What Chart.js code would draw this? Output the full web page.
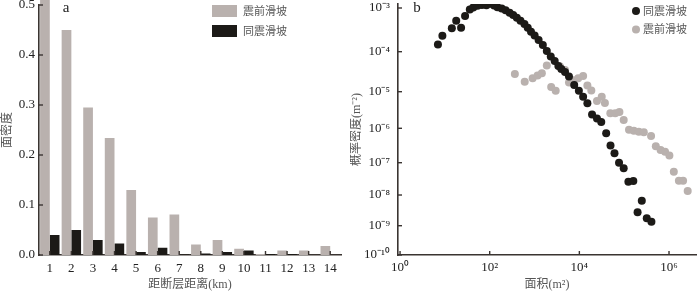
<!DOCTYPE html>
<html lang="zh">
<head>
<meta charset="UTF-8">
<title>滑坡面密度与面积概率密度</title>
<script src="https://cdn.jsdelivr.net/npm/chart.js@4.4.0/dist/chart.umd.min.js"></script>
<style>
  body { margin: 0; background: #fff; width: 700px; height: 292px; overflow: hidden; }
  .panel { position: absolute; top: 0; width: 350px; height: 292px; }
</style>
</head>
<body>
<div class="panel" style="left:0"><canvas id="chartA" width="350" height="292"></canvas></div>
<div class="panel" style="left:350px"><canvas id="chartB" width="350" height="292"></canvas></div>
<script>
// (a) 距断层距离 - 面密度
const distKm = ['1', '2', '3', '4', '5', '6', '7', '8', '9', '10', '11', '12', '13', '14'];
const preDensity = [0.51, 0.45, 0.295, 0.234, 0.130, 0.075, 0.081, 0.021, 0.030, 0.0125, 0.002, 0.009, 0.009, 0.018];
const coDensity = [0.040, 0.050, 0.030, 0.023, 0.006, 0.0145, 0.001, 0.003, 0.006, 0.009, 0.002, 0.002, 0, 0];
const yTicksA = [0, 0.1, 0.2, 0.3, 0.4, 0.5];

// (b) 面积 - 概率密度
const coArea = [7.0, 8.8, 14.3, 17.9, 23.0, 28.2, 36, 43, 53.5, 67, 84.6, 106, 125, 149, 185, 226, 278, 334, 403, 486,
  596, 705, 834, 1005, 1233, 1532, 1878, 2302, 2818, 3404, 3963, 4786, 5866, 7674, 9750, 12130, 15100, 19190, 24700,
  30770, 39650, 49550, 60780, 76750, 97500, 124000, 160000, 199000, 247000, 319000, 405000];
const coProb = [1.46e-4, 2.32e-4, 3.43e-4, 5.12e-4, 3.54e-4, 6.56e-4, 9.2e-4, 1.03e-3, 1.13e-3, 1.17e-3, 1.15e-3, 1.24e-3,
  1.14e-3, 1.04e-3, 9.7e-4, 8.9e-4, 7.8e-4, 6.9e-4, 6.0e-4, 5.1e-4, 4.3e-4, 3.54e-4, 2.87e-4, 2.35e-4, 1.85e-4, 1.42e-4,
  1.04e-4, 7.6e-5, 5.85e-5, 4.39e-5, 3.69e-5, 3.11e-5, 2.4e-5, 1.47e-5, 1.06e-5, 7.3e-6, 4.82e-6, 2.38e-6, 1.85e-6,
  1.49e-6, 7.2e-7, 3.16e-7, 1.88e-7, 1.0e-7, 6.7e-8, 2.58e-8, 2.71e-8, 2.73e-9, 6.5e-9, 1.74e-9, 1.35e-9];
const preArea = [364, 604, 908, 1170, 1456, 1878, 2350, 2966, 3673, 4786, 5866, 7295, 9414, 12130, 15100, 18500, 24700,
  31550, 37150, 49100, 63250, 78300, 97500, 128000, 164000, 212000, 274000, 398000, 508000, 649000, 816000, 1020000,
  1280000, 1660000, 2060000, 2610000];
const preProb = [2.77e-5, 1.78e-5, 2.16e-5, 2.54e-5, 2.88e-5, 4.52e-5, 1.31e-5, 1.06e-5, 4.32e-5, 3.49e-5, 1.7e-5, 1.93e-5,
  2.16e-5, 2.47e-5, 1.43e-5, 1.07e-5, 5.57e-6, 7.3e-6, 4.91e-6, 2.57e-6, 2.57e-6, 2.79e-6, 1.69e-6, 9.1e-7, 8.5e-7, 8.0e-7,
  7.65e-7, 5.97e-7, 3.0e-7, 2.34e-7, 2.09e-7, 1.62e-7, 5.26e-8, 2.77e-8, 2.77e-8, 1.33e-8];
const xTicksB = [1, 1e2, 1e4, 1e6];
const yTicksB = [1e-3, 1e-4, 1e-5, 1e-6, 1e-7, 1e-8, 1e-9, 1e-10];

const GREY = '#b9b1ae', BLACK = '#1c1a17', AXIS = '#3a3431';
const SERIF = '"Liberation Serif", "Times New Roman", serif';
const CJK = '"Liberation Serif", "Noto Sans CJK SC", serif';

const SUP = { '-': '⁻', '0': '⁰', '1': '¹', '2': '²', '3': '³', '4': '⁴', '5': '⁵', '6': '⁶', '7': '⁷', '8': '⁸', '9': '⁹' };
const pow10 = v => '10' + String(Math.round(Math.log10(v))).split('').map(c => SUP[c]).join('');

// log scale whose decades are not evenly spaced (as printed in the figure)
class WarpLogScale extends Chart.LogarithmicScale {
  _warp(e) {
    const ex = this.options.warp.exp, fr = this.options.warp.frac;
    let i = 1;
    while (i < ex.length - 1 && e > ex[i]) i++;
    return fr[i - 1] + (e - ex[i - 1]) / (ex[i] - ex[i - 1]) * (fr[i] - fr[i - 1]);
  }
  getPixelForValue(value) {
    if (value === undefined || value <= 0) value = this.min;
    return this.getPixelForDecimal(this._warp(Math.log10(value)));
  }
  getValueForPixel(pixel) {
    const d = this.getDecimalForPixel(pixel);
    const ex = this.options.warp.exp, fr = this.options.warp.frac;
    let i = 1;
    while (i < fr.length - 1 && d > fr[i]) i++;
    return Math.pow(10, ex[i - 1] + (d - fr[i - 1]) / (fr[i] - fr[i - 1]) * (ex[i] - ex[i - 1]));
  }
}
WarpLogScale.id = 'warplog';
WarpLogScale.defaults = {};
Chart.register(WarpLogScale);

// short inward tick marks + panel letter + legend
const decor = {
  id: 'decor',
  afterDraw(chart, args, opts) {
    const ctx = chart.ctx;
    ctx.save();
    ctx.strokeStyle = AXIS;
    ctx.lineWidth = 1.4;
    Object.values(chart.scales).forEach(s => {
      s.ticks.forEach((t, i) => {
        const p = s.getPixelForTick(i);
        ctx.beginPath();
        if (s.isHorizontal()) { ctx.moveTo(p, s.top); ctx.lineTo(p, s.top - 4); }
        else { ctx.moveTo(s.right, p); ctx.lineTo(s.right + 4, p); }
        ctx.stroke();
      });
    });
    ctx.fillStyle = '#222';
    ctx.font = '15px ' + SERIF;
    ctx.textBaseline = 'middle';
    ctx.textAlign = 'center';
    ctx.fillText(opts.letter, opts.letterX, 8);
    ctx.textAlign = 'left';
    ctx.font = '11px ' + CJK;
    opts.order.forEach((di, k) => {
      const ds = chart.data.datasets[di];
      const y = opts.legendY + k * opts.legendGap;
      ctx.fillStyle = ds.backgroundColor;
      if (opts.marker === 'box') ctx.fillRect(opts.legendX, y - 6, 25, 12);
      else { ctx.beginPath(); ctx.arc(opts.legendX, y, 4, 0, Math.PI * 2); ctx.fill(); }
      ctx.fillStyle = '#555';
      ctx.fillText(ds.label, opts.textX, y + 1);
    });
    ctx.restore();
  }
};

const tickFont = { family: SERIF, size: 13 };
const titleFont = { family: CJK, size: 12 };
const border = { display: true, color: AXIS, width: 1.6 };
const fitY = w => s => { s.width = w; s.paddingTop = 0; s.paddingBottom = 0; };
const fitX = s => { s.height = 37; s.paddingLeft = 0; s.paddingRight = 0; };

new Chart(document.getElementById('chartA'), {
  type: 'bar',
  data: {
    labels: distKm,
    datasets: [
      { label: '震前滑坡', data: preDensity, backgroundColor: GREY, clip: false },
      { label: '同震滑坡', data: coDensity, backgroundColor: BLACK, clip: false }
    ]
  },
  options: {
    responsive: false,
    animation: false,
    layout: { padding: { top: 5, right: 9, left: 0, bottom: 0 } },
    datasets: { bar: { categoryPercentage: 0.9, barPercentage: 1.0, borderWidth: 0 } },
    plugins: {
      legend: { display: false }, tooltip: { enabled: false },
      decor: { letter: 'a', letterX: 66, marker: 'box', order: [0, 1], legendX: 212, textX: 243, legendY: 11, legendGap: 20 }
    },
    scales: {
      x: {
        z: 1,
        grid: { display: false, drawTicks: false },
        border: border,
        ticks: { font: tickFont, color: '#222', padding: 6, maxRotation: 0, autoSkip: false },
        title: { display: true, text: '距断层距离(km)', font: titleFont, color: '#555', padding: 0 },
        afterFit: fitX
      },
      y: {
        z: 1,
        min: 0, max: 0.5,
        grid: { display: false, drawTicks: false },
        border: border,
        afterBuildTicks: s => { s.ticks = yTicksA.map(v => ({ value: v })); },
        ticks: { font: tickFont, color: '#222', padding: 4, callback: v => v.toFixed(1) },
        title: { display: true, text: '面密度', font: titleFont, color: '#555', padding: { top: 1, bottom: 0 } },
        afterFit: fitY(39)
      }
    }
  },
  plugins: [decor]
});

const toPoints = (xs, ys) => xs.map((x, i) => ({ x: x, y: ys[i] }));

new Chart(document.getElementById('chartB'), {
  type: 'scatter',
  data: {
    datasets: [
      { label: '同震滑坡', data: toPoints(coArea, coProb), backgroundColor: BLACK },
      { label: '震前滑坡', data: toPoints(preArea, preProb), backgroundColor: GREY }
    ]
  },
  options: {
    responsive: false,
    animation: false,
    layout: { padding: { top: 4, right: 1, left: 0, bottom: 0 } },
    elements: { point: { radius: 4, borderWidth: 0, hoverRadius: 4 } },
    plugins: {
      legend: { display: false }, tooltip: { enabled: false },
      decor: { letter: 'b', letterX: 67, marker: 'dot', order: [0, 1], legendX: 286, textX: 293, legendY: 11, legendGap: 18.5 }
    },
    scales: {
      x: {
        type: 'logarithmic',
        z: 1,
        min: 0.9, max: 4.0e6,
        grid: { display: false, drawTicks: false },
        border: border,
        afterBuildTicks: s => { s.ticks = xTicksB.map(v => ({ value: v })); },
        ticks: { font: tickFont, color: '#222', padding: 5, maxRotation: 0, autoSkip: false, callback: pow10 },
        title: { display: true, text: '面积(m²)', font: titleFont, color: '#555', padding: 0 },
        afterFit: fitX
      },
      y: {
        type: 'warplog',
        z: 1,
        min: 1e-10, max: Math.pow(10, -2.91),
        warp: {
          exp: [-10, -9, -8, -7, -6, -5, -4, -3, -2.91],
          frac: [0, 0.1167, 0.239, 0.3677, 0.5048, 0.6506, 0.81, 0.9841, 1]
        },
        grid: { display: false, drawTicks: false },
        border: border,
        afterBuildTicks: s => { s.ticks = yTicksB.map(v => ({ value: v })); },
        ticks: { font: tickFont, color: '#222', padding: 8, callback: pow10 },
        title: { display: true, text: '概率密度(m⁻²)', font: titleFont, color: '#555', padding: 0 },
        afterFit: fitY(48)
      }
    }
  },
  plugins: [decor]
});
</script>
</body>
</html>
